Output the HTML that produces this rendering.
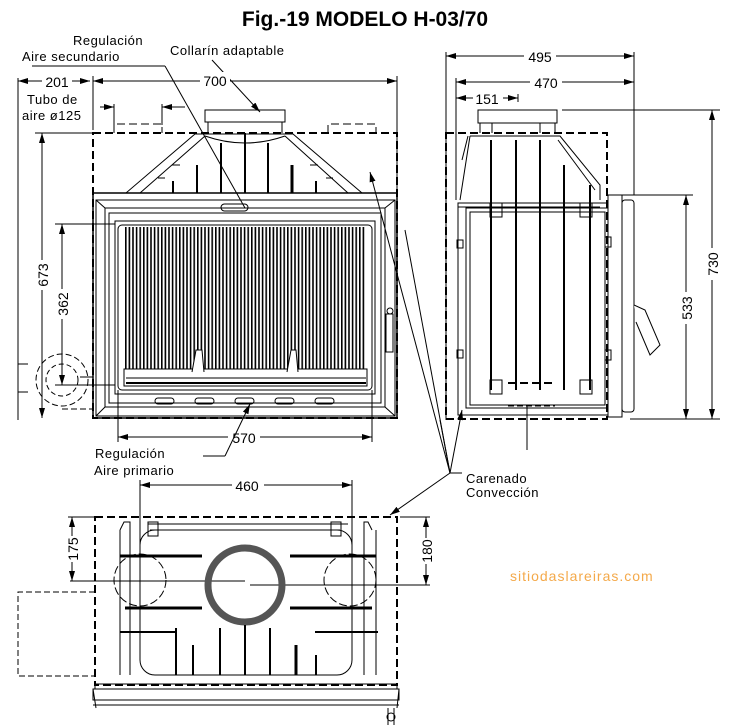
<!DOCTYPE html>
<html><head><meta charset="utf-8"><style>
html,body{margin:0;padding:0;background:#fff}
svg{display:block}
text{font-family:"Liberation Sans",sans-serif;fill:#000}
</style></head><body>
<svg width="731" height="725" viewBox="0 0 731 725" xmlns="http://www.w3.org/2000/svg">
<defs>
<pattern id="bars" x="125" y="0" width="3.6" height="10" patternUnits="userSpaceOnUse">
<rect x="0" y="0" width="1.6" height="10" fill="#000"/>
</pattern>
<marker id="ar" viewBox="0 0 10 6" refX="10" refY="3" markerWidth="10" markerHeight="6" orient="auto-start-reverse" markerUnits="userSpaceOnUse"><path d="M0,0 L10,3 L0,6 Z" fill="#000"/></marker>
</defs>
<g stroke="#000" fill="none" stroke-width="1">
<!-- title -->
<text x="365" y="26" font-size="21" font-weight="bold" text-anchor="middle" stroke="none">Fig.-19 MODELO H-03/70</text>
<!-- labels top-left -->
<text x="73" y="45" font-size="13" stroke="none" letter-spacing="0.5">Regulación</text>
<text x="22" y="61" font-size="13" stroke="none" letter-spacing="0.5">Aire secundario</text>
<text x="170" y="55" font-size="13" stroke="none" letter-spacing="0.5">Collarín adaptable</text>
<line x1="32" y1="66" x2="165" y2="66"/>
<line x1="165" y1="66" x2="245" y2="208"/>
<line x1="212" y1="60" x2="260" y2="112" marker-end="url(#ar)"/>
<!-- front view dims -->
<line x1="18" y1="81" x2="90" y2="81" marker-start="url(#ar)" marker-end="url(#ar)"/>
<text x="57" y="86" font-size="14" text-anchor="middle" stroke="none" style="paint-order:stroke" >201</text>
<line x1="93" y1="81" x2="397" y2="81" marker-start="url(#ar)" marker-end="url(#ar)"/>
<rect x="200" y="72" width="30" height="14" fill="#fff" stroke="none"/>
<text x="215" y="86" font-size="14" text-anchor="middle" stroke="none">700</text>
<rect x="42" y="75" width="30" height="12" fill="#fff" stroke="none"/>
<text x="57" y="87" font-size="14" text-anchor="middle" stroke="none">201</text>
<line x1="18" y1="78" x2="18" y2="420"/>
<line x1="93" y1="76" x2="93" y2="130"/>
<line x1="397" y1="76" x2="397" y2="193"/>
<text x="27" y="104" font-size="13" stroke="none" letter-spacing="0.5">Tubo de</text>
<text x="22" y="120" font-size="13" stroke="none" letter-spacing="0.5">aire ø125</text>
<line x1="100" y1="107" x2="114" y2="107" marker-end="url(#ar)"/>
<line x1="114" y1="104" x2="114" y2="125"/>
<line x1="162" y1="104" x2="162" y2="125"/>
<line x1="162" y1="107" x2="185" y2="107" marker-start="url(#ar)"/>
<!-- 673 -->
<line x1="42" y1="133" x2="42" y2="418" marker-start="url(#ar)" marker-end="url(#ar)"/>
<line x1="35" y1="133" x2="93" y2="133"/>
<rect x="34" y="260" width="16" height="30" fill="#fff" stroke="none"/>
<text x="48" y="275" font-size="14" text-anchor="middle" stroke="none" transform="rotate(-90 48 275)">673</text>
<!-- 362 -->
<line x1="62" y1="224" x2="62" y2="385" marker-start="url(#ar)" marker-end="url(#ar)"/>
<line x1="55" y1="224" x2="115" y2="224"/>
<line x1="55" y1="385" x2="115" y2="385"/>
<rect x="54" y="289" width="16" height="30" fill="#fff" stroke="none"/>
<text x="68" y="304" font-size="14" text-anchor="middle" stroke="none" transform="rotate(-90 68 304)">362</text>
<!-- air tube circle -->
<circle cx="62" cy="380" r="26" stroke-dasharray="6,3"/>
<circle cx="62" cy="380" r="16" stroke-dasharray="5,3"/>
<path d="M28,364 H18 V392 H28"/>
<line x1="80" y1="377" x2="93" y2="377"/>
<line x1="62" y1="409" x2="93" y2="409" stroke-dasharray="6,3"/>
<!-- dashed casing front -->
<rect x="93" y="133" width="304" height="285" stroke-width="2" stroke-dasharray="8,4"/>
<path d="M114,133 V124 H162 V133 M328,133 V124 H376 V133" stroke-dasharray="8,4"/>
<!-- collar -->
<rect x="205" y="110" width="80" height="12"/>
<path d="M208,122 V133 M282,122 V133"/>
<!-- hood -->
<path d="M126,193 L195,134 H293 L362,193" />
<path d="M140,193 L205,136 M348,193 L285,136"/>
<path d="M205,136 Q245,150 285,136"/>
<path d="M172,165 H180 M310,165 H318 M158,178 H165 M326,178 H333"/>
<g stroke-width="2">
<line x1="173" y1="181" x2="173" y2="193"/><line x1="197" y1="165" x2="197" y2="193"/>
<line x1="221" y1="143" x2="221" y2="193"/><line x1="245" y1="133" x2="245" y2="193"/>
<line x1="268" y1="143" x2="268" y2="193"/><line x1="292" y1="165" x2="292" y2="193" stroke-width="3"/>
<line x1="316" y1="181" x2="316" y2="193"/>
</g>
<!-- frame -->
<rect x="93" y="193" width="304" height="225" stroke-width="1.5"/>
<rect x="96" y="200" width="299" height="216"/>
<rect x="105" y="208" width="280" height="199"/>
<rect x="109" y="213" width="272" height="190"/>
<path d="M96,200 L105,208 M395,200 L385,208 M96,416 L105,407 M395,416 L385,407"/>
<rect x="115" y="221" width="260" height="173"/>
<rect x="118" y="225" width="254" height="165" rx="4"/>
<rect x="124" y="227" width="242" height="146" fill="url(#bars)" stroke="none"/>
<rect x="124" y="369" width="243" height="17" fill="#fff"/>
<line x1="126" y1="378" x2="366" y2="378"/>
<line x1="126" y1="383" x2="366" y2="383" stroke-width="2"/>
<path d="M192,372 L196,350 H202 L204,372 M287,372 L291,350 H296 L298,372" fill="#fff"/>
<rect x="221" y="204" width="27" height="7" rx="3.5"/>
<rect x="155" y="398" width="19" height="6" rx="3"/>
<rect x="195" y="398" width="19" height="6" rx="3"/>
<rect x="235" y="398" width="19" height="6" rx="3"/>
<rect x="275" y="398" width="19" height="6" rx="3"/>
<rect x="315" y="398" width="19" height="6" rx="3"/>
<circle cx="390" cy="311" r="3"/>
<rect x="386" y="314" width="7" height="38"/>
<!-- 570 -->
<line x1="118" y1="437" x2="372" y2="437" marker-start="url(#ar)" marker-end="url(#ar)"/>
<line x1="118" y1="390" x2="118" y2="442"/>
<line x1="372" y1="390" x2="372" y2="442"/>
<rect x="228" y="430" width="32" height="14" fill="#fff" stroke="none"/>
<text x="244" y="443" font-size="14" text-anchor="middle" stroke="none">570</text>
<line x1="250" y1="404" x2="225" y2="456" marker-start="url(#ar)"/>
<line x1="225" y1="456" x2="203" y2="456"/>
<text x="95" y="458" font-size="13" stroke="none" letter-spacing="0.5">Regulación</text>
<text x="94" y="475" font-size="13" stroke="none" letter-spacing="0.5">Aire primario</text>
<!-- carenado leaders -->
<line x1="450" y1="473" x2="370" y2="172" marker-end="url(#ar)"/>
<line x1="450" y1="473" x2="405" y2="230"/>
<line x1="450" y1="473" x2="462" y2="410" marker-end="url(#ar)"/>
<line x1="450" y1="473" x2="440" y2="420"/>
<line x1="450" y1="473" x2="462" y2="473"/>
<line x1="450" y1="473" x2="390" y2="515" marker-end="url(#ar)"/>
<text x="466" y="483" font-size="13" stroke="none" letter-spacing="0.5">Carenado</text>
<text x="466" y="497" font-size="13" stroke="none" letter-spacing="0.5">Convección</text>
<!-- side view -->
<line x1="446" y1="56" x2="634" y2="56" marker-start="url(#ar)" marker-end="url(#ar)"/>
<rect x="524" y="48" width="32" height="14" fill="#fff" stroke="none"/>
<text x="540" y="62" font-size="14" text-anchor="middle" stroke="none">495</text>
<line x1="456" y1="82" x2="634" y2="82" marker-start="url(#ar)" marker-end="url(#ar)"/>
<rect x="530" y="74" width="32" height="14" fill="#fff" stroke="none"/>
<text x="546" y="88" font-size="14" text-anchor="middle" stroke="none">470</text>
<line x1="456" y1="98" x2="518" y2="98" marker-start="url(#ar)" marker-end="url(#ar)"/>
<rect x="473" y="90" width="30" height="14" fill="#fff" stroke="none"/>
<text x="487" y="104" font-size="14" text-anchor="middle" stroke="none">151</text>
<line x1="446" y1="52" x2="446" y2="420"/>
<line x1="456" y1="78" x2="456" y2="200"/>
<line x1="518" y1="94" x2="518" y2="102"/>
<line x1="634" y1="52" x2="634" y2="195"/>
<line x1="562" y1="110" x2="720" y2="110"/>
<line x1="612" y1="195" x2="693" y2="195"/>
<line x1="630" y1="419" x2="720" y2="419"/>
<line x1="712" y1="110" x2="712" y2="419" marker-start="url(#ar)" marker-end="url(#ar)"/>
<rect x="704" y="248" width="16" height="32" fill="#fff" stroke="none"/>
<text x="718" y="264" font-size="14" text-anchor="middle" stroke="none" transform="rotate(-90 718 264)">730</text>
<line x1="686" y1="195" x2="686" y2="419" marker-start="url(#ar)" marker-end="url(#ar)"/>
<rect x="678" y="292" width="16" height="32" fill="#fff" stroke="none"/>
<text x="692" y="308" font-size="14" text-anchor="middle" stroke="none" transform="rotate(-90 692 308)">533</text>
<rect x="446" y="133" width="161" height="286" stroke-width="2" stroke-dasharray="8,4"/>
<rect x="478" y="110" width="79" height="13"/>
<path d="M480,123 V133 M555,123 V133 M492,123 V133 M540,123 V133"/>
<path d="M470,136 H560 L600,185 V200 M470,136 L460,200 M468,136 L462,160"/>
<path d="M558,140 L595,190"/>
<rect x="458" y="203" width="150" height="212"/>
<rect x="466" y="208" width="142" height="200"/>
<rect x="470" y="212" width="135" height="193"/>
<g stroke-width="2">
<line x1="491" y1="140" x2="491" y2="390"/><line x1="516" y1="140" x2="516" y2="390"/>
<line x1="540" y1="140" x2="540" y2="390"/><line x1="564" y1="165" x2="564" y2="390"/>
<line x1="590" y1="185" x2="590" y2="390"/>
</g>
<line x1="458" y1="207" x2="600" y2="207"/>
<rect x="490" y="203" width="12" height="14"/><rect x="580" y="203" width="12" height="14"/>
<rect x="490" y="380" width="12" height="14"/><rect x="580" y="380" width="12" height="14"/>
<rect x="457" y="240" width="6" height="8"/><rect x="457" y="350" width="6" height="8"/>
<rect x="605" y="237" width="6" height="10"/><rect x="605" y="350" width="6" height="10"/>
<path d="M508,383 H555" stroke-width="2" stroke-dasharray="8,4"/>
<path d="M508,406 H555" stroke-dasharray="6,3"/>
<line x1="527" y1="406" x2="527" y2="450"/>
<rect x="608" y="195" width="14" height="222"/>
<rect x="622" y="200" width="12" height="212" rx="3"/>
<path d="M634,305 L645,310 L660,345 L650,355 L636,322" fill="#fff"/>
<!-- top view -->
<line x1="140" y1="485" x2="352" y2="485" marker-start="url(#ar)" marker-end="url(#ar)"/>
<rect x="232" y="477" width="32" height="14" fill="#fff" stroke="none"/>
<text x="247" y="491" font-size="14" text-anchor="middle" stroke="none">460</text>
<line x1="140" y1="480" x2="140" y2="555"/>
<line x1="352" y1="480" x2="352" y2="555"/>
<rect x="95" y="517" width="302" height="168" stroke-width="2" stroke-dasharray="8,4"/>
<line x1="68" y1="517" x2="95" y2="517"/>
<line x1="72" y1="517" x2="72" y2="581" marker-start="url(#ar)" marker-end="url(#ar)"/>
<rect x="64" y="536" width="16" height="26" fill="#fff" stroke="none"/>
<text x="78" y="549" font-size="14" text-anchor="middle" stroke="none" transform="rotate(-90 78 549)">175</text>
<path d="M95,592 H18 V676 H95" stroke-dasharray="6,3"/>
<line x1="400" y1="517" x2="430" y2="517"/>
<line x1="426" y1="517" x2="426" y2="585" marker-start="url(#ar)" marker-end="url(#ar)"/>
<rect x="418" y="538" width="16" height="26" fill="#fff" stroke="none"/>
<text x="432" y="551" font-size="14" text-anchor="middle" stroke="none" transform="rotate(-90 432 551)">180</text>
<line x1="70" y1="581" x2="245" y2="581"/>
<line x1="250" y1="585" x2="430" y2="585"/>
<path d="M120,530 L124,522 H130 V675 M372,530 L368,522 H364 V675 M120,530 V675 M376,530 V675"/>
<path d="M150,530 H340" />
<rect x="140" y="530" width="212" height="145" rx="15"/>
<line x1="148" y1="524" x2="348" y2="524"/>
<rect x="148" y="522" width="10" height="14"/><rect x="331" y="522" width="10" height="14"/>
<g stroke-width="3">
<line x1="120" y1="556" x2="202" y2="556"/><line x1="290" y1="556" x2="376" y2="556"/>
<line x1="125" y1="608" x2="202" y2="608"/><line x1="290" y1="608" x2="372" y2="608"/>
<line x1="120" y1="632" x2="175" y2="632" stroke-width="2"/><line x1="315" y1="632" x2="378" y2="632" stroke-width="2"/>
</g>
<circle cx="140" cy="580" r="26" stroke-dasharray="8,3"/>
<circle cx="350" cy="580" r="26" stroke-dasharray="8,3"/>
<circle cx="245" cy="585" r="37" stroke="#555" stroke-width="7"/>
<g stroke-width="2">
<line x1="176" y1="628" x2="176" y2="675"/><line x1="193" y1="645" x2="193" y2="675"/>
<line x1="220" y1="628" x2="220" y2="675"/><line x1="245" y1="625" x2="245" y2="675"/>
<line x1="270" y1="628" x2="270" y2="675"/><line x1="296" y1="645" x2="296" y2="675" stroke-width="3"/>
<line x1="316" y1="655" x2="316" y2="675"/>
</g>
<rect x="95" y="684" width="302" height="5"/>
<path d="M93,689 H399 V700 H93 Z"/>
<line x1="93" y1="705" x2="399" y2="705"/>
<path d="M93,689 L96,708 M399,689 L397,708"/>
<path d="M388,708 V725 M394,708 V725"/>
<circle cx="391" cy="717" r="4"/>
</g>
<text x="510" y="581" font-size="14" fill="#f0a030" style="fill:#f4a94a" letter-spacing="1">sitiodaslareiras.com</text>
</svg>
</body></html>
